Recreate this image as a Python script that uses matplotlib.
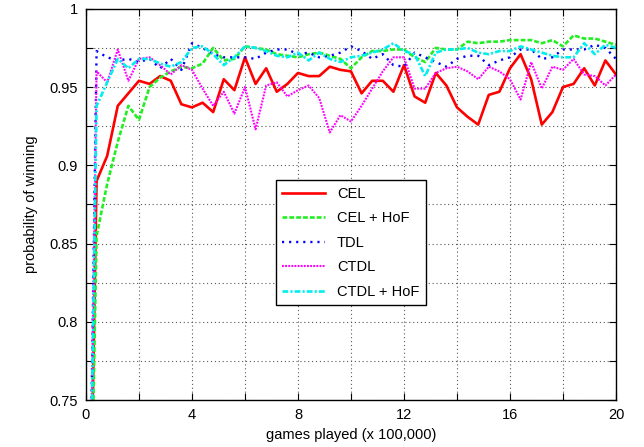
import matplotlib
matplotlib.use("Agg")
import matplotlib.pyplot as plt
from matplotlib.ticker import MultipleLocator, FuncFormatter

# games played, in units of 100,000
games = [0.0, 0.4, 0.8, 1.2, 1.6, 2.0, 2.4, 2.8, 3.2, 3.6, 4.0,
         4.4, 4.8, 5.2, 5.6, 6.0, 6.4, 6.8, 7.2, 7.6, 8.0,
         8.4, 8.8, 9.2, 9.6, 10.0, 10.4, 10.8, 11.2, 11.6, 12.0,
         12.4, 12.8, 13.2, 13.6, 14.0, 14.4, 14.8, 15.2, 15.6, 16.0,
         16.4, 16.8, 17.2, 17.6, 18.0, 18.4, 18.8, 19.2, 19.6, 20.0]

cel = [0.5, 0.890, 0.906, 0.938, 0.946, 0.954, 0.952, 0.957, 0.954, 0.939, 0.937,
       0.940, 0.934, 0.955, 0.948, 0.969, 0.952, 0.962, 0.947, 0.952, 0.959,
       0.957, 0.957, 0.963, 0.961, 0.960, 0.946, 0.954, 0.954, 0.947, 0.964,
       0.944, 0.940, 0.959, 0.951, 0.937, 0.931, 0.926, 0.945, 0.947, 0.962,
       0.971, 0.955, 0.926, 0.934, 0.950, 0.952, 0.962, 0.951, 0.967, 0.958]

cel_hof = [0.5, 0.855, 0.888, 0.915, 0.938, 0.929, 0.950, 0.956, 0.960, 0.963, 0.962,
           0.965, 0.975, 0.967, 0.968, 0.976, 0.975, 0.974, 0.971, 0.970, 0.969,
           0.971, 0.972, 0.970, 0.968, 0.962, 0.969, 0.973, 0.973, 0.974, 0.974,
           0.969, 0.966, 0.975, 0.974, 0.974, 0.979, 0.978, 0.979, 0.979, 0.980,
           0.980, 0.980, 0.978, 0.980, 0.976, 0.983, 0.981, 0.981, 0.979, 0.977]

tdl = [0.5, 0.973, 0.969, 0.967, 0.968, 0.966, 0.968, 0.962, 0.968, 0.961, 0.978,
       0.975, 0.971, 0.969, 0.969, 0.969, 0.968, 0.972, 0.974, 0.974, 0.971,
       0.972, 0.969, 0.970, 0.972, 0.976, 0.973, 0.968, 0.971, 0.964, 0.963,
       0.972, 0.969, 0.966, 0.963, 0.968, 0.970, 0.970, 0.964, 0.967, 0.969,
       0.974, 0.974, 0.968, 0.969, 0.974, 0.974, 0.974, 0.977, 0.975, 0.968]

ctdl = [0.5, 0.960, 0.953, 0.974, 0.954, 0.968, 0.969, 0.964, 0.958, 0.964, 0.961,
        0.949, 0.938, 0.947, 0.933, 0.950, 0.923, 0.951, 0.953, 0.944, 0.948,
        0.951, 0.943, 0.921, 0.932, 0.928, 0.938, 0.949, 0.960, 0.969, 0.969,
        0.949, 0.949, 0.959, 0.962, 0.963, 0.960, 0.955, 0.963, 0.960, 0.955,
        0.942, 0.966, 0.949, 0.963, 0.961, 0.968, 0.958, 0.957, 0.951, 0.958]

ctdl_hof = [0.5, 0.938, 0.953, 0.968, 0.962, 0.968, 0.968, 0.965, 0.963, 0.966, 0.975,
            0.976, 0.971, 0.964, 0.969, 0.976, 0.975, 0.973, 0.970, 0.969, 0.972,
            0.967, 0.972, 0.968, 0.966, 0.969, 0.970, 0.972, 0.974, 0.978, 0.973,
            0.971, 0.957, 0.972, 0.974, 0.974, 0.975, 0.972, 0.971, 0.973, 0.973,
            0.976, 0.974, 0.972, 0.970, 0.969, 0.969, 0.978, 0.971, 0.977, 0.975]

plt.rcParams["font.family"] = ["Liberation Sans", "DejaVu Sans"]
plt.rcParams["font.size"] = 10.5

fig = plt.figure(figsize=(6.44, 4.47), dpi=100)
ax = fig.add_axes([0.1335, 0.1051, 0.8230, 0.8752])

ax.plot(games, cel, color="#ff0000", lw=1.9, label="CEL")
ax.plot(games, cel_hof, color="#22ee22", lw=1.9, dashes=(1.8, 0.8), label="CEL + HoF")
ax.plot(games, tdl, color="#0000ff", lw=1.7, dashes=(0.9, 2.1), label="TDL")
ax.plot(games, ctdl, color="#ff00ff", lw=1.5, dashes=(0.9, 0.6), label="CTDL")
ax.plot(games, ctdl_hof, color="#00eeee", lw=1.9, dashes=(2.2, 0.8, 0.8, 0.8), label="CTDL + HoF")

ax.set_xlim(0, 20)
ax.set_ylim(0.75, 1.0)
ax.xaxis.set_major_locator(MultipleLocator(4))
ax.xaxis.set_minor_locator(MultipleLocator(2))
ax.yaxis.set_major_locator(MultipleLocator(0.05))
ax.yaxis.set_minor_locator(MultipleLocator(0.025))
ax.yaxis.set_major_formatter(FuncFormatter(lambda v, p: f"{v:g}"))
ax.xaxis.set_major_formatter(FuncFormatter(lambda v, p: f"{v:g}"))

ax.grid(True, which="both", color="0.35", lw=0.8, linestyle=(0, (1, 2.5)))
ax.tick_params(which="both", direction="in", top=True, right=True, length=5, width=0.8)
ax.tick_params(which="major", pad=6)
for s in ax.spines.values():
    s.set_linewidth(1.0)

ax.set_xlabel("games played (x 100,000)", labelpad=4)
ax.set_ylabel("probability of winning", labelpad=8)

leg = ax.legend(loc="upper left", bbox_to_anchor=(0.358, 0.562), borderaxespad=0,
                fancybox=False, framealpha=1, edgecolor="black",
                handlelength=2.9, handletextpad=0.85, labelspacing=0.72, borderpad=0.45)
leg.get_frame().set_linewidth(1.0)

fig.savefig("out.png", dpi=100)
